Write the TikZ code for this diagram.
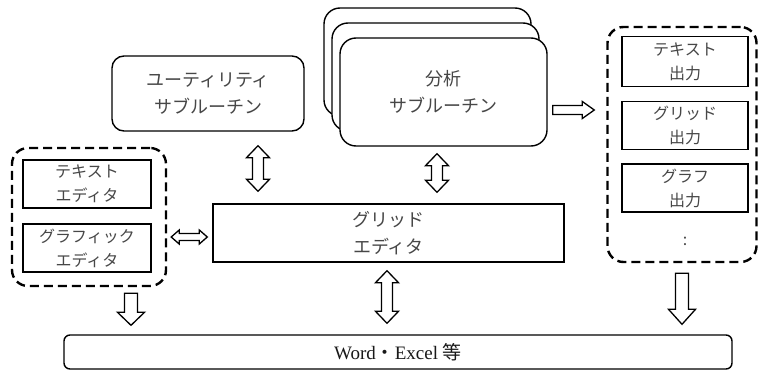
\documentclass[tikz,border=0pt]{standalone}
\usepackage{fontspec}
\setmainfont{Liberation Serif}
\newfontfamily\jp{Noto Sans CJK JP}
\usetikzlibrary{calc}

\tikzset{
  box/.style={draw, line width=1.4pt, fill=white, inner sep=0pt, align=center, text=black!72},
  bigtxt/.style={font=\jp\fontsize{18}{27}\selectfont},
  smalltxt/.style={font=\jp\fontsize{16}{24}\selectfont},
  roundbox/.style={box, rounded corners=#1},
  grp/.style={draw, line width=2.4pt, dash pattern=on 9pt off 5pt, rounded corners=16pt, inner sep=0pt},
  blk/.style={draw, line width=1.3pt, fill=white, line join=miter}
}

\newcommand\BlkArr[5]{%
  \path #1 coordinate (ba-s) #2 coordinate (ba-t);
  \path ($(ba-t)!#5!(ba-s)$) coordinate (ba-h);
  \draw[blk] ($(ba-s)!#3!90:(ba-t)$) -- ($(ba-h)!#3!90:(ba-t)$) -- ($(ba-h)!#4!90:(ba-t)$) -- (ba-t)
     -- ($(ba-h)!#4!-90:(ba-t)$) -- ($(ba-h)!#3!-90:(ba-t)$) -- ($(ba-s)!#3!-90:(ba-t)$) -- cycle;
}
\newcommand\DblArr[5]{%
  \path #1 coordinate (ba-s) #2 coordinate (ba-t);
  \path ($(ba-s)!#5!(ba-t)$) coordinate (ba-h1) ($(ba-t)!#5!(ba-s)$) coordinate (ba-h2);
  \draw[blk] (ba-s) -- ($(ba-h1)!#4!90:(ba-t)$) -- ($(ba-h1)!#3!90:(ba-t)$) -- ($(ba-h2)!#3!90:(ba-t)$)
     -- ($(ba-h2)!#4!90:(ba-t)$) -- (ba-t) -- ($(ba-h2)!#4!-90:(ba-t)$) -- ($(ba-h2)!#3!-90:(ba-t)$)
     -- ($(ba-h1)!#3!-90:(ba-t)$) -- ($(ba-h1)!#4!-90:(ba-t)$) -- cycle;
}

\begin{document}
\begin{tikzpicture}[x=1pt, y=-1pt]
\useasboundingbox (0,0) rectangle (758,372);

% utility
\node[roundbox=12pt, bigtxt, minimum width=192pt, minimum height=75pt] (util) at (208,93.5)
  {ユーティリティ\\サブルーチン};

% analysis stack
\node[roundbox=16pt, minimum width=207pt, minimum height=108pt] (anal3) at (427.5,62) {};
\node[roundbox=16pt, minimum width=207pt, minimum height=108pt] (anal2) at (435.5,77) {};
\node[roundbox=16pt, bigtxt, minimum width=207pt, minimum height=108pt] (anal) at (443.5,92)
  {分析\\サブルーチン};

% right group
\node[grp, minimum width=149pt, minimum height=235pt] (rgrp) at (682,144.5) {};
\node[box, smalltxt, minimum width=126pt, minimum height=50pt] (tout) at (685,61.5) {テキスト\\出力};
\node[box, smalltxt, minimum width=126pt, minimum height=48pt] (gout) at (685,125.5) {グリッド\\出力};
\node[box, smalltxt, minimum width=126pt, minimum height=48pt] (fout) at (685,188) {グラフ\\出力};
\node[font=\jp\fontsize{16}{18}\selectfont, text=black!72] (dots) at (685,241) {:};

% left group
\node[grp, minimum width=154pt, minimum height=138pt] (lgrp) at (89,217) {};
\node[box, smalltxt, minimum width=128pt, minimum height=48pt] (ted) at (87,184) {テキスト\\エディタ};
\node[box, smalltxt, minimum width=128pt, minimum height=48pt] (ged) at (87,248) {グラフィック\\エディタ};

% grid editor
\node[box, bigtxt, minimum width=351pt, minimum height=58pt] (grid) at (388.5,233) {グリッド\\エディタ};

% bottom
\node[roundbox=6pt, minimum width=668pt, minimum height=34pt, text=black!90,
  font=\fontsize{19}{22}\selectfont] (word) at (398,352) {Word{\jp ・}Excel {\jp 等}};

% x positions of arrows
\coordinate (ux) at (258,0);
\coordinate (ax) at (437,0);
\coordinate (ry) at (0,110);
\coordinate (ly) at (0,237);
\coordinate (lx) at (131,0);
\coordinate (mx) at (387,0);
\coordinate (rx) at (682,0);

% arrows
\DblArr{($(util.south -| ux)+(0,14)$)}{($(grid.north -| ux)+(0,-12)$)}{5.5pt}{11.5pt}{12pt}
\DblArr{($(anal.south -| ax)+(0,7)$)}{($(grid.north -| ax)+(0,-11)$)}{5.5pt}{11.5pt}{12pt}
\DblArr{($(lgrp.east |- ly)+(4,0)$)}{($(grid.west |- ly)+(-5,0)$)}{3.5pt}{7pt}{8pt}
\DblArr{($(grid.south -| mx)+(0,8)$)}{($(word.north -| mx)+(0,-11)$)}{5.5pt}{11.5pt}{12pt}
\BlkArr{($(anal.east |- ry)+(5,0)$)}{($(rgrp.west |- ry)+(-12,0)$)}{4.5pt}{8.5pt}{12pt}
\BlkArr{($(lgrp.south -| lx)+(0,6)$)}{($(word.north -| lx)+(0,-9)$)}{6.5pt}{13.5pt}{13pt}
\BlkArr{($(rgrp.south -| rx)+(0,10)$)}{($(word.north -| rx)+(0,-10)$)}{6.5pt}{13.5pt}{15pt}
\end{tikzpicture}
\end{document}
